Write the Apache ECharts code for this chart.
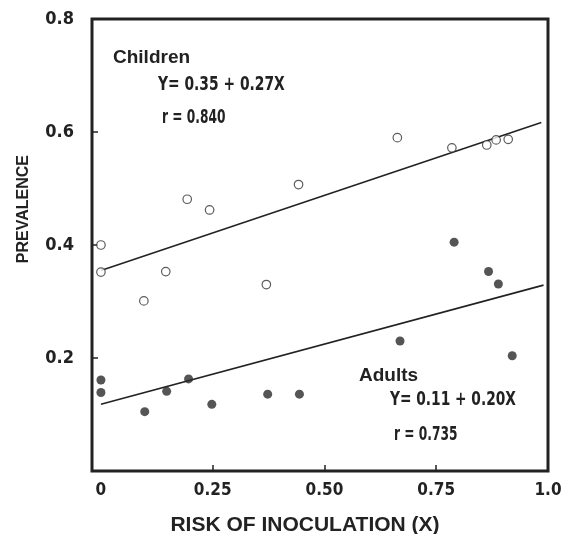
<!DOCTYPE html>
<html>
<head>
<meta charset="utf-8">
<title>Prevalence vs risk of inoculation</title>
<script src="https://cdn.jsdelivr.net/npm/echarts@6/dist/echarts.min.js"></script>
<style>
  html, body { margin: 0; padding: 0; background: #ffffff; }
  #chart { width: 567px; height: 534px; }
</style>
</head>
<body>
<div id="chart"></div>
<script>
// open circles - children
const childrenX = [0.0, 0.0, 0.096, 0.145, 0.193, 0.243, 0.37, 0.442, 0.663, 0.785, 0.863, 0.884, 0.911]
const childrenY = [0.400, 0.352, 0.301, 0.353, 0.481, 0.462, 0.330, 0.507, 0.590, 0.572, 0.577, 0.586, 0.587]
// filled circles - adults
const adultsX = [0.0, 0.0, 0.098, 0.147, 0.196, 0.248, 0.373, 0.444, 0.669, 0.790, 0.867, 0.889, 0.920]
const adultsY = [0.161, 0.139, 0.105, 0.141, 0.163, 0.118, 0.136, 0.136, 0.230, 0.405, 0.353, 0.331, 0.204]
// regression lines, end points as drawn
const childrenFitX = [0.0, 0.985]
const childrenFitY = [0.355, 0.617]
const adultsFitX = [0.0, 0.99]
const adultsFitY = [0.118, 0.329]
// ticks
const xLabelValues = [0, 0.25, 0.5, 0.75, 1.0]
const xTickValues = [0.25, 0.5, 0.75]
const yLabelValues = [0.2, 0.4, 0.6, 0.8]
const yTickValues = [0.2, 0.4, 0.6]

const zip = (xs, ys) => xs.map((x, i) => [x, ys[i]])
const narrow = "'Liberation Sans Narrow', 'DejaVu Sans Condensed', sans-serif"
const wide = "'Liberation Sans', Arial, sans-serif"
const ink = '#222'

const chart = echarts.init(document.getElementById('chart'))
chart.setOption({
  backgroundColor: '#ffffff',
  animation: false,
  grid: {
    left: 92, right: 19, top: 19, bottom: 63,
    outerBoundsMode: 'none',
    containLabel: false,
    show: true, borderColor: ink, borderWidth: 3
  },
  xAxis: {
    type: 'value',
    min: -0.02,
    max: 1.0,
    splitLine: { show: false },
    axisLine: { show: false, onZero: false },
    axisTick: {
      show: true, inside: true, length: 6, customValues: xTickValues,
      lineStyle: { color: ink, width: 1.5 }
    },
    axisLabel: {
      customValues: xLabelValues,
      margin: 11,
      color: ink,
      fontFamily: narrow,
      fontWeight: 'bold',
      fontSize: 17,
      formatter: v => v === 0 ? '0' : (v === 1 ? '1.0' : v.toFixed(2))
    }
  },
  yAxis: {
    type: 'value',
    min: 0,
    max: 0.8,
    splitLine: { show: false },
    axisLine: { show: false, onZero: false },
    axisTick: {
      show: true, inside: true, length: 6, customValues: yTickValues,
      lineStyle: { color: ink, width: 1.5 }
    },
    axisLabel: {
      customValues: yLabelValues,
      margin: 18,
      color: ink,
      fontFamily: narrow,
      fontWeight: 'bold',
      fontSize: 18,
      formatter: v => v.toFixed(1)
    }
  },
  graphic: [
    {
      type: 'text', left: 16, top: 155, rotation: Math.PI / 2,
      style: { text: 'PREVALENCE', fill: ink, font: 'bold 16px ' + wide }
    },
    {
      type: 'text', x: 305, y: 525,
      style: { text: 'RISK OF INOCULATION (X)', fill: ink, font: 'bold 21px ' + wide, align: 'center', verticalAlign: 'middle' }
    },
    { type: 'text', left: 113, top: 48, style: { text: 'Children', fill: ink, font: 'bold 19px ' + wide } },
    { type: 'text', x: 158, y: 85, scaleX: 0.77, style: { text: 'Y= 0.35 + 0.27X', fill: ink, font: 'bold 20px ' + narrow, verticalAlign: 'middle' } },
    { type: 'text', x: 162, y: 118, scaleX: 0.68, style: { text: 'r = 0.840', fill: ink, font: 'bold 20px ' + narrow, verticalAlign: 'middle' } },
    { type: 'text', left: 359, top: 366, style: { text: 'Adults', fill: ink, font: 'bold 19px ' + wide } },
    { type: 'text', x: 390, y: 400, scaleX: 0.765, style: { text: 'Y= 0.11 + 0.20X', fill: ink, font: 'bold 20px ' + narrow, verticalAlign: 'middle' } },
    { type: 'text', x: 394, y: 435, scaleX: 0.68, style: { text: 'r = 0.735', fill: ink, font: 'bold 20px ' + narrow, verticalAlign: 'middle' } }
  ],
  series: [
    {
      name: 'Children fit', type: 'line', data: zip(childrenFitX, childrenFitY),
      showSymbol: false, lineStyle: { color: ink, width: 1.6 }, z: 2
    },
    {
      name: 'Adults fit', type: 'line', data: zip(adultsFitX, adultsFitY),
      showSymbol: false, lineStyle: { color: ink, width: 1.6 }, z: 2
    },
    {
      name: 'Children', type: 'scatter', data: zip(childrenX, childrenY),
      symbol: 'circle', symbolSize: 8.5,
      itemStyle: { color: '#ffffff', borderColor: '#333', borderWidth: 1.2 }, z: 3
    },
    {
      name: 'Adults', type: 'scatter', data: zip(adultsX, adultsY),
      symbol: 'circle', symbolSize: 9,
      itemStyle: { color: '#2a2a2a' }, z: 3
    }
  ]
})
</script>
</body>
</html>
